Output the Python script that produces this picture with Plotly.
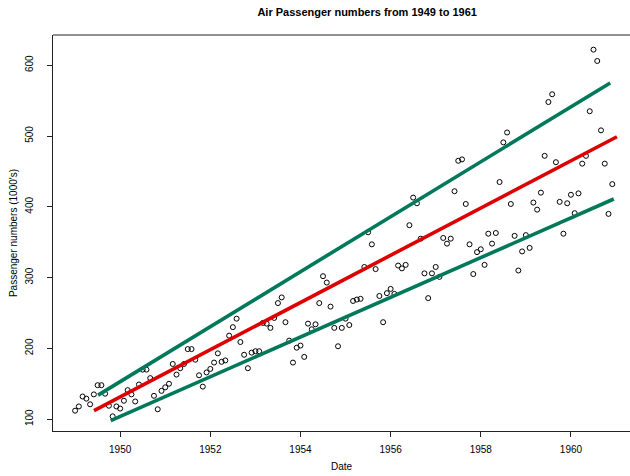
import plotly.graph_objects as go

# Monthly airline passengers (thousands), Jan 1949 - Dec 1960
passengers = [
    112, 118, 132, 129, 121, 135, 148, 148, 136, 119, 104, 118,
    115, 126, 141, 135, 125, 149, 170, 170, 158, 133, 114, 140,
    145, 150, 178, 163, 172, 178, 199, 199, 184, 162, 146, 166,
    171, 180, 193, 181, 183, 218, 230, 242, 209, 191, 172, 194,
    196, 196, 236, 235, 229, 243, 264, 272, 237, 211, 180, 201,
    204, 188, 235, 227, 234, 264, 302, 293, 259, 229, 203, 229,
    242, 233, 267, 269, 270, 315, 364, 347, 312, 274, 237, 278,
    284, 277, 317, 313, 318, 374, 413, 405, 355, 306, 271, 306,
    315, 301, 356, 348, 355, 422, 465, 467, 404, 347, 305, 336,
    340, 318, 362, 348, 363, 435, 491, 505, 404, 359, 310, 337,
    360, 342, 406, 396, 420, 472, 548, 559, 463, 407, 362, 405,
    417, 391, 419, 461, 472, 535, 622, 606, 508, 461, 390, 432,
]
start_year = 1949
dates = [start_year + i / 12 for i in range(len(passengers))]

# Trend line and upper / lower band (start and end points)
trend_x = [1949.42, 1961.02]
trend_y = [112, 499]
upper_x = [1949.51, 1960.87]
upper_y = [134, 575]
lower_x = [1949.79, 1960.95]
lower_y = [98, 411]

x_ticks = [1950, 1952, 1954, 1956, 1958, 1960]
y_ticks = [100, 200, 300, 400, 500, 600]

red = "#DE0000"
green = "#00785A"

fig = go.Figure()
fig.add_trace(go.Scatter(
    x=dates, y=passengers, mode="markers",
    marker=dict(symbol="circle-open", size=5, color="black", line=dict(width=1, color="black")),
    showlegend=False, hoverinfo="x+y",
))
fig.add_trace(go.Scatter(x=trend_x, y=trend_y, mode="lines",
                         line=dict(color=red, width=3.6), showlegend=False))
fig.add_trace(go.Scatter(x=upper_x, y=upper_y, mode="lines",
                         line=dict(color=green, width=3.6), showlegend=False))
fig.add_trace(go.Scatter(x=lower_x, y=lower_y, mode="lines",
                         line=dict(color=green, width=3.6), showlegend=False))

font_family = "Liberation Sans, Arial, sans-serif"

fig.update_layout(
    width=630, height=476,
    margin=dict(l=53, r=0, t=35, b=45),
    paper_bgcolor="white", plot_bgcolor="white",
    font=dict(family=font_family, size=10, color="black"),
    title=dict(
        text="<b>Air Passenger numbers from 1949 to 1961</b>",
        x=(53 + 633) / 2 / 630, xanchor="center", xref="paper",
        y=1 - 12 / 476, yanchor="middle", yref="container",
        font=dict(size=11, family=font_family, color="black"),
    ),
    xaxis=dict(
        range=[1948.51, 1961.31], tickvals=x_ticks, ticktext=[str(v) for v in x_ticks],
        showgrid=False, zeroline=False, showline=True, linecolor="#222", linewidth=1,
        ticks="outside", ticklen=5, tickcolor="#222", tickwidth=1,
        tickfont=dict(size=10), ticklabelstandoff=4,
        title=dict(text="Date", font=dict(size=10), standoff=8),
    ),
    yaxis=dict(
        range=[83.3, 642.7], tickvals=y_ticks, ticktext=[str(v) for v in y_ticks],
        showgrid=False, zeroline=False, showline=True, linecolor="#222", linewidth=1,
        ticks="outside", ticklen=5, tickcolor="#222", tickwidth=1,
        tickfont=dict(size=10), tickangle=-90, ticklabelstandoff=10,
        title=dict(text="Passenger numbers (1000's)", font=dict(size=10), standoff=4),
    ),
    shapes=[dict(type="line", xref="paper", yref="paper", x0=0, x1=1, y0=1, y1=1,
                 line=dict(color="#222", width=1))],
)

fig.write_html("out.html")
